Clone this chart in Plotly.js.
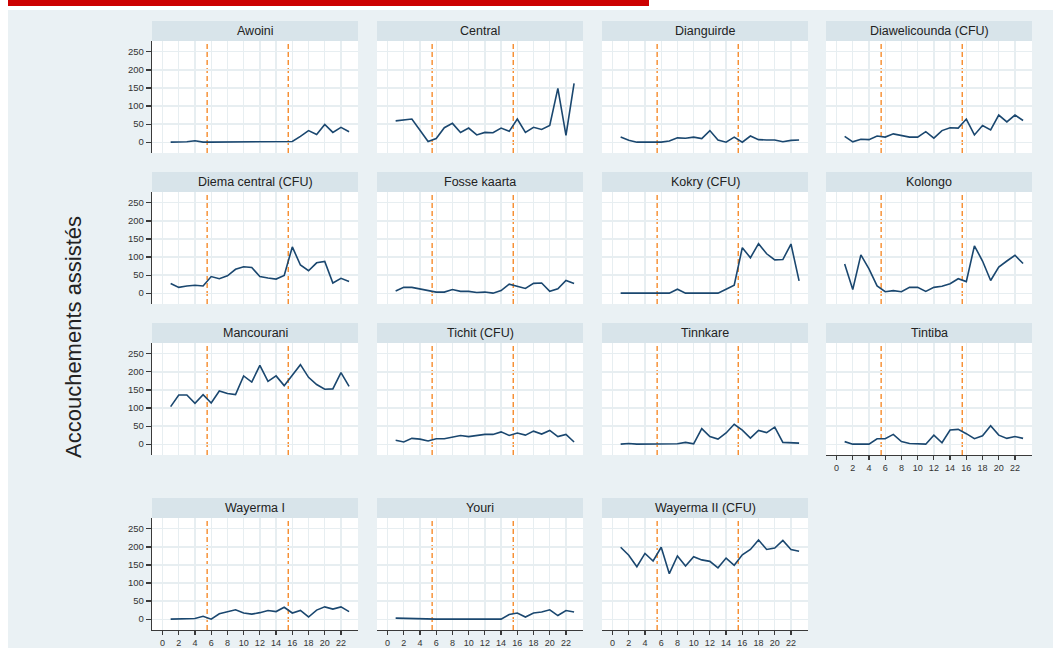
<!DOCTYPE html>
<html>
<head>
<meta charset="utf-8">
<script src="https://cdn.plot.ly/plotly-3.0.1.min.js"></script>
<style>html,body{margin:0;padding:0;background:#ffffff;}</style>
</head>
<body>
<div id="chart" style="width:1053px;height:648px;"></div>
<script>
// ---------- data ----------
const months = [1,2,3,4,5,6,7,8,9,10,11,12,13,14,15,16,17,18,19,20,21,22,23];
const interventionMonths = [5.5, 15.5];
const yTickValues = [0, 50, 100, 150, 200, 250];
const xTickValues = [0, 2, 4, 6, 8, 10, 12, 14, 16, 18, 20, 22];
const yAxisTitle = "Accouchements assistés";

const facilities = ["Awoini", "Central", "Dianguirde", "Diawelicounda (CFU)",
  "Diema central (CFU)", "Fosse kaarta", "Kokry (CFU)", "Kolongo",
  "Mancourani", "Tichit (CFU)", "Tinnkare", "Tintiba",
  "Wayerma I", "Youri", "Wayerma II (CFU)"];

const awoini        = [0,0,1,4,0,0,0,0,0,0,0,0,0,0,0,2,16,32,21,49,27,41,29];
const central       = [59,62,64,33,2,10,40,52,27,39,20,27,26,39,30,64,27,41,35,46,149,19,163];
const dianguirde    = [14,5,0,0,0,0,3,12,11,14,10,32,6,0,14,0,17,7,6,6,1,5,6];
const diawelicounda = [16,1,8,7,17,14,23,18,14,14,29,11,32,40,39,64,20,46,34,75,56,75,60];
const diemaCentral  = [27,16,20,22,20,46,40,48,66,73,71,46,42,39,49,128,78,62,84,88,28,41,32];
const fosseKaarta   = [6,16,16,12,8,3,3,10,5,5,2,3,0,7,25,18,13,27,28,5,12,35,27];
const kokry         = [0,0,0,0,0,0,0,11,0,0,0,0,0,11,22,126,98,137,109,92,93,136,34];
const kolongo       = [81,10,106,67,20,4,7,4,16,16,5,16,19,26,40,32,131,89,35,72,89,105,82];
const mancourani    = [104,136,136,113,137,114,147,140,137,189,172,218,174,189,162,192,220,185,165,152,153,198,160];
const tichit        = [11,6,16,14,9,15,15,19,24,21,25,27,27,34,24,31,25,36,28,38,21,27,6];
const tinnkare      = [0,2,0,0,0,2,2,1,5,1,43,21,14,31,55,39,17,38,32,47,5,3,3];
const tintiba       = [7,0,0,0,15,15,27,7,2,2,0,25,4,39,41,29,15,23,51,25,16,21,16];
const wayermaI      = [0,0,0,2,8,0,15,20,26,17,14,18,24,21,33,17,24,6,25,34,28,34,21];
const youri         = [3,2,1,1,1,0,0,0,0,0,0,1,0,0,13,17,6,17,20,26,10,24,20];
const wayermaII     = [199,177,145,182,161,199,126,175,147,173,164,160,142,169,149,178,193,219,193,197,218,193,188];

const seriesList = [awoini, central, dianguirde, diawelicounda,
  diemaCentral, fosseKaarta, kokry, kolongo,
  mancourani, tichit, tinnkare, tintiba,
  wayermaI, youri, wayermaII];

// ---------- layout geometry (pixels) ----------
const W = 1053, H = 648;
const colLeft = [152, 377, 602, 826];
const colW = 206;
const stripTop = [21, 172, 323, 498];
const stripH = 20;
const plotH = 112;
const bottomPanels = [11, 12, 13, 14];

const FONT = "Liberation Sans, Arial, Helvetica, sans-serif";
const lineColor = "#1a476f";
const dashColor = "#f68b2c";
const gridColor = "#e7eef1";
const axisColor = "#3a3a3a";
const stripColor = "#d8e4ea";
const bgColor = "#eaf1f4";

const traces = [];
const layout = {
  width: W, height: H,
  margin: {l: 0, r: 0, t: 0, b: 0, pad: 0},
  paper_bgcolor: bgColor,
  plot_bgcolor: "#ffffff",
  showlegend: false,
  font: {family: FONT, color: "#222222", size: 10},
  shapes: [],
  annotations: []
};

// white margin + red banner
layout.shapes.push({type: "rect", xref: "paper", yref: "paper", x0: 0, x1: 8 / W, y0: 0, y1: 1,
  fillcolor: "#ffffff", line: {width: 0}, layer: "below"});
layout.shapes.push({type: "rect", xref: "paper", yref: "paper", x0: 0, x1: 1, y0: 1 - 10 / H, y1: 1,
  fillcolor: "#ffffff", line: {width: 0}, layer: "below"});
layout.shapes.push({type: "rect", xref: "paper", yref: "paper", x0: 8 / W, x1: 649 / W, y0: 1 - 6 / H, y1: 1,
  fillcolor: "#cc0000", line: {width: 0}, layer: "below"});

facilities.forEach((name, i) => {
  const row = Math.floor(i / 4), col = i % 4;
  const n = i === 0 ? "" : String(i + 1);
  const xName = "xaxis" + n, yName = "yaxis" + n;
  const xRef = "x" + n, yRef = "y" + n;
  const left = colLeft[col], right = left + colW;
  const top = stripTop[row] + stripH, bottom = top + plotH;
  const isBottom = bottomPanels.includes(i);
  const isLeft = col === 0;

  traces.push({
    type: "scatter", mode: "lines",
    x: months, y: seriesList[i],
    xaxis: xRef, yaxis: yRef,
    line: {color: lineColor, width: 1.6},
    hoverinfo: "skip"
  });

  layout[xName] = {
    domain: [left / W, right / W],
    anchor: yRef,
    range: [-1.3, 24.1],
    tickmode: "array", tickvals: xTickValues, ticktext: xTickValues.map(String),
    showgrid: true, gridcolor: gridColor, gridwidth: 1.3,
    zeroline: false,
    showline: isBottom, linecolor: axisColor, linewidth: 1.2,
    ticks: isBottom ? "outside" : "", ticklen: 4, tickcolor: axisColor, tickwidth: 1.2,
    showticklabels: isBottom,
    tickfont: {family: FONT, size: 9, color: "#333333"},
    fixedrange: true
  };
  layout[yName] = {
    domain: [1 - bottom / H, 1 - top / H],
    anchor: xRef,
    range: [-30, 280],
    tickmode: "array", tickvals: yTickValues, ticktext: yTickValues.map(String),
    showgrid: true, gridcolor: gridColor, gridwidth: 1.3,
    zeroline: false,
    showline: isLeft, linecolor: axisColor, linewidth: 1.2,
    ticks: isLeft ? "outside" : "", ticklen: 5, tickcolor: axisColor, tickwidth: 1.2,
    showticklabels: isLeft,
    tickfont: {family: FONT, size: 9.5, color: "#333333"},
    fixedrange: true
  };

  // strip header
  layout.shapes.push({type: "rect", xref: "paper", yref: "paper",
    x0: left / W, x1: right / W, y0: 1 - top / H, y1: 1 - stripTop[row] / H,
    fillcolor: stripColor, line: {width: 0}, layer: "above"});
  layout.annotations.push({xref: "paper", yref: "paper",
    x: (left + right) / 2 / W, y: 1 - (stripTop[row] + stripH / 2) / H,
    xanchor: "center", yanchor: "middle", showarrow: false,
    text: name, font: {family: FONT, size: 12.5, color: "#222222"}});

  // intervention markers
  interventionMonths.forEach(m => {
    layout.shapes.push({type: "line", xref: xRef, yref: yRef + " domain",
      x0: m, x1: m, y0: 0, y1: 1,
      line: {color: dashColor, width: 1.4, dash: "5px,3px"}, layer: "below"});
  });
});

layout.annotations.push({xref: "paper", yref: "paper",
  x: 73 / W, y: 1 - 337 / H, xanchor: "center", yanchor: "middle",
  showarrow: false, textangle: -90, text: yAxisTitle,
  font: {family: FONT, size: 22, color: "#222222"}});

Plotly.newPlot("chart", traces, layout, {displayModeBar: false, staticPlot: true});
</script>
</body>
</html>
